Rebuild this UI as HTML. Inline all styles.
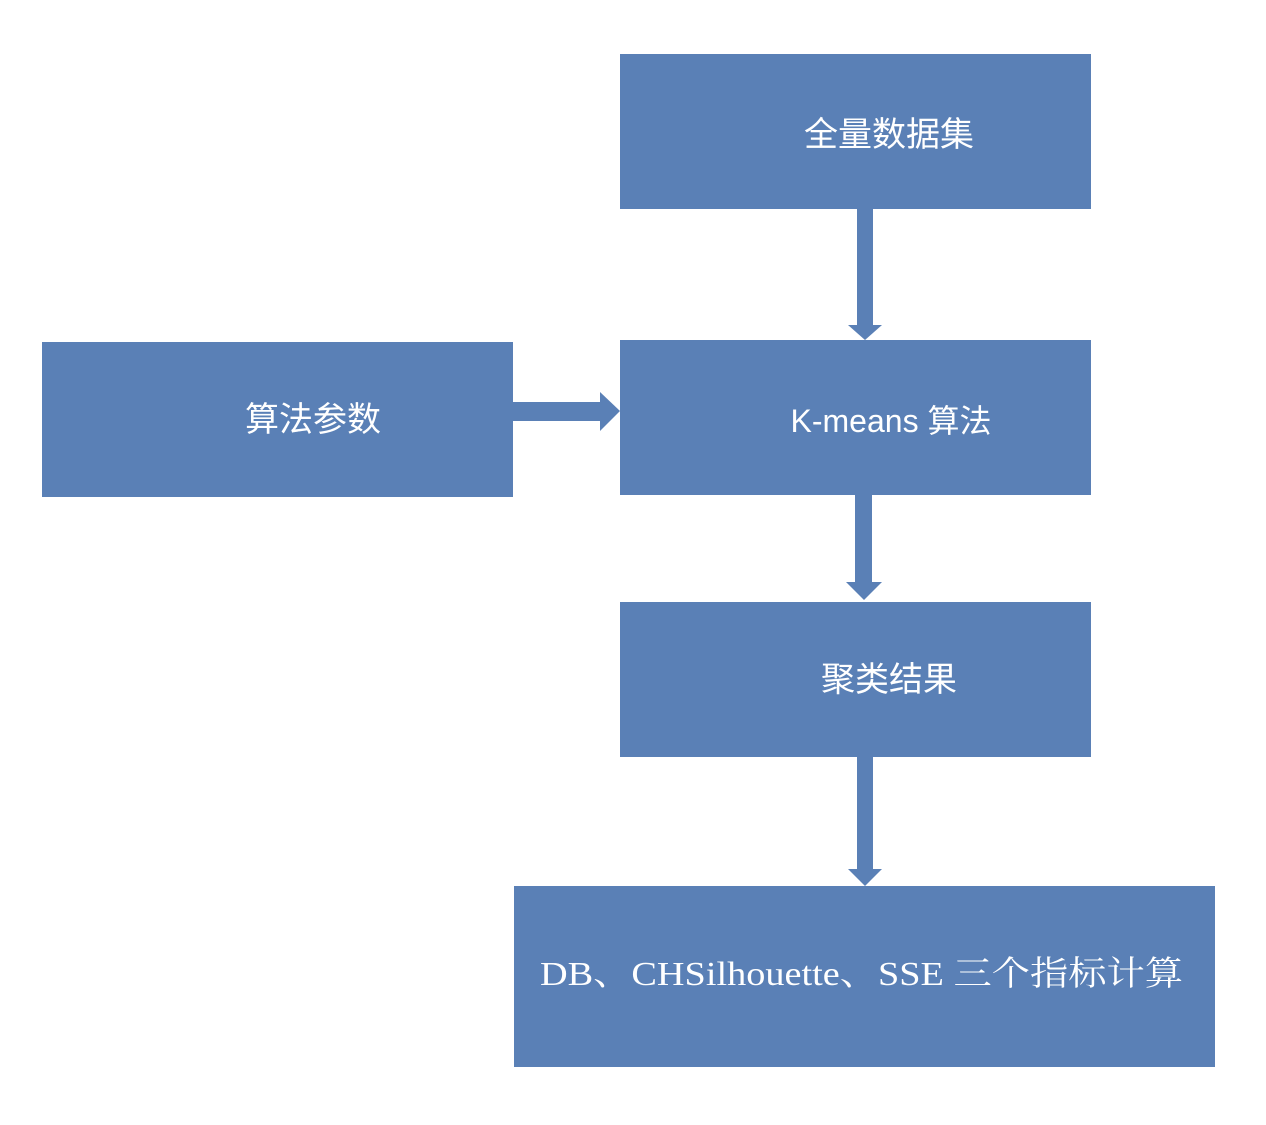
<!DOCTYPE html>
<html><head><meta charset="utf-8"><style>html,body{margin:0;padding:0;background:#fff}</style></head>
<body>
<svg width="1266" height="1120" viewBox="0 0 1266 1120" xmlns="http://www.w3.org/2000/svg">
<g fill="#5a80b6">
<rect x="620" y="54" width="471" height="155"/>
<rect x="620" y="340" width="471" height="155"/>
<rect x="620" y="602" width="471" height="155"/>
<rect x="514" y="886" width="701" height="181"/>
<rect x="42" y="342" width="471" height="155"/>
<rect x="857" y="209" width="16" height="117"/>
<polygon points="848,325 882,325 865,340"/>
<rect x="513" y="402" width="88" height="19"/>
<polygon points="600,392 620,411 600,431"/>
<rect x="855" y="495" width="17" height="88"/>
<polygon points="846,582 882,582 864,600"/>
<rect x="857" y="757" width="16" height="113"/>
<polygon points="848,869 882,869 865,886"/>
</g>
<g fill="#fff" font-family="'Liberation Sans','Noto Sans CJK SC',sans-serif" font-size="34" text-anchor="middle">
<text x="889" y="146">全量数据集</text>
<text x="313" y="431">算法参数</text>
<text x="891" y="432" font-size="32">K-means 算法</text>
<text x="889" y="691">聚类结果</text>
</g>
<text x="540" y="985" fill="#fff" font-family="'Liberation Serif','Noto Serif CJK SC',serif" font-size="34" textLength="643" lengthAdjust="spacingAndGlyphs">DB、CHSilhouette、SSE 三个指标计算</text>
</svg>
</body></html>
